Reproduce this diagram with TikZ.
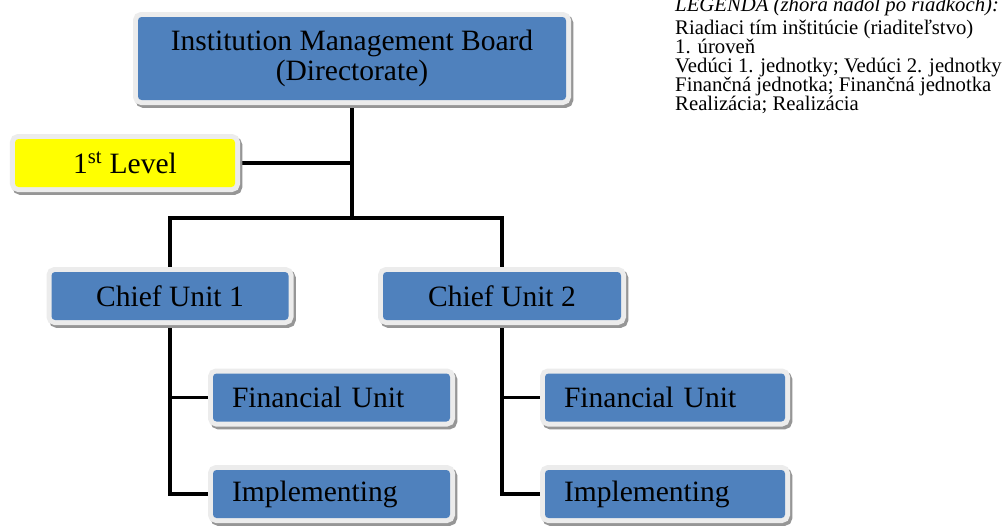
\documentclass[tikz,border=0pt]{standalone}
\usepackage{fontspec}
\setmainfont{Liberation Serif}
\usetikzlibrary{backgrounds}
\definecolor{boxblue}{RGB}{79,129,189}
\definecolor{framegray}{RGB}{236,236,236}
\definecolor{shadegray}{RGB}{150,150,150}
\definecolor{lvlyellow}{RGB}{255,255,0}
\begin{document}
\begin{tikzpicture}[x=0.03cm,y=-0.03cm,
  orgbox/.style={rectangle,rounded corners=3pt,fill=boxblue,inner sep=0pt,
    font=\fontsize{25.2}{25.5}\selectfont,
    preaction={fill=shadegray,draw=shadegray,line width=0.3cm,
      transform canvas={shift={(2pt,-2.5pt)}}},
    preaction={fill=framegray,draw=framegray,line width=0.3cm}},
  unitbox/.style={orgbox,minimum width=237*0.03cm,minimum height=48*0.03cm},
  subbox/.style={orgbox,align=left,inner xsep=19*0.03cm,text width=199*0.03cm,
    minimum height=48*0.03cm},
  link/.style={line width=2.6pt},
  legend/.style={anchor=base west,inner sep=0pt,font=\fontsize{17.7}{18}\selectfont}]
\useasboundingbox (0,0) rectangle (1005,526);
%
% boxes
\node[orgbox,minimum width=428*0.03cm,minimum height=83*0.03cm,align=center] (board)
  at (352,58.5) {Institution Management Board\\(Directorate)};
\node[orgbox,fill=lvlyellow,minimum width=220*0.03cm,minimum height=48*0.03cm] (level)
  at (125,163) {1\textsuperscript{st} Level};
\node[unitbox] (chief1) at (170,296) {Chief Unit 1};
\node[unitbox,minimum width=238*0.03cm] (chief2) at (502,296) {Chief Unit 2};
\node[subbox] (fin1) at (331.5,397.5) {Financial Unit};
\node[subbox] (impl1) at (331.5,494) {Implementing};
\node[subbox,text width=202*0.03cm] (fin2) at (665,397.5) {Financial Unit};
\node[subbox,text width=202*0.03cm] (impl2) at (665,494) {Implementing};
%
% connectors
\begin{scope}[on background layer]
\fill[white] (0,0) rectangle (1005,526);
\coordinate (bar) at (352,218);
\draw[link] (board) -- (bar);
\draw[link] (level) -- (level -| board);
\draw[link] (chief1.north) |- (bar) -| (chief2.north);
\draw[link] (chief1.south) |- (fin1.west);
\draw[link] (chief1.south) |- (impl1.west);
\draw[link] (chief2.south) |- (fin2.west);
\draw[link] (chief2.south) |- (impl2.west);
\end{scope}
%
% legend
\node[legend] (leg0) at (675,11) {\itshape LEGENDA (zhora nadol po riadkoch):};
\node[legend] (leg1) at (675,34) {Riadiaci tím inštitúcie (riaditeľstvo)};
\node[legend] (leg2) at (675,53) {1. úroveň};
\node[legend] (leg3) at (675,72) {Vedúci 1. jednotky; Vedúci 2. jednotky};
\node[legend] (leg4) at (675,91) {Finančná jednotka; Finančná jednotka};
\node[legend] (leg5) at (675,110) {Realizácia; Realizácia};
\end{tikzpicture}
\end{document}
